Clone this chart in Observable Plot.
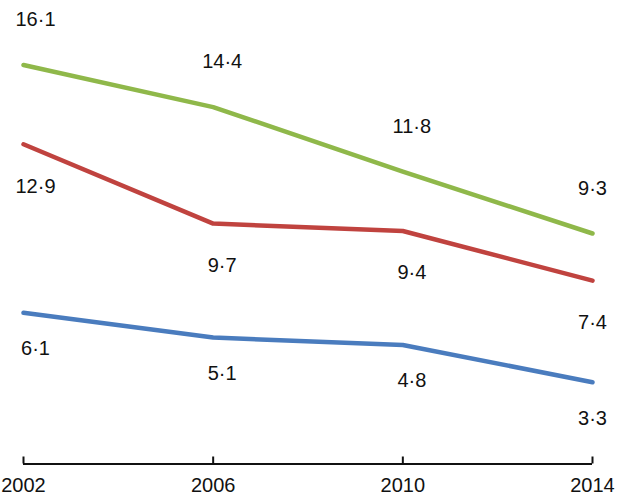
<!DOCTYPE html>
<html>
<head>
<meta charset="utf-8">
<script src="https://cdn.jsdelivr.net/npm/d3@7"></script>
<script src="https://cdn.jsdelivr.net/npm/@observablehq/plot@0.6"></script>
<style>
  html, body { margin: 0; padding: 0; background: #fff; }
  #chart svg { display: block; }
</style>
</head>
<body>
<div id="chart"></div>
<script>
const years = [2002, 2006, 2010, 2014];
const seriesNames = ["green", "red", "blue"];
const greenValues = [16.1, 14.4, 11.8, 9.3];
const redValues = [12.9, 9.7, 9.4, 7.4];
const blueValues = [6.1, 5.1, 4.8, 3.3];

const colors = {green: "#8fb84a", red: "#c0433f", blue: "#4a7cbe"};
const labelDy = {green: -45, red: 42, blue: 36};
const valuesBy = {green: greenValues, red: redValues, blue: blueValues};

const data = seriesNames.flatMap(s => years.map((yr, i) => ({series: s, year: yr, value: valuesBy[s][i]})));
const fmt = v => v.toFixed(1).replace(".", "\u00B7");
const font = "Liberation Sans, Arial, Helvetica, sans-serif";

const labelMarks = seriesNames.flatMap(s => [
  Plot.text(data.filter(d => d.series === s && d.year === 2002), {x: "year", y: "value", text: d => fmt(d.value), dy: labelDy[s], dx: 12, fontSize: 20, fill: "#111", lineAnchor: "middle"}),
  Plot.text(data.filter(d => d.series === s && (d.year === 2006 || d.year === 2010)), {x: "year", y: "value", text: d => fmt(d.value), dy: labelDy[s], dx: 9, fontSize: 20, fill: "#111", lineAnchor: "middle"}),
  Plot.text(data.filter(d => d.series === s && d.year === 2014), {x: "year", y: "value", text: d => fmt(d.value), dy: labelDy[s], dx: 0, fontSize: 20, fill: "#111", lineAnchor: "middle"})
]);

const chart = Plot.plot({
  width: 617,
  height: 497,
  marginLeft: 23,
  marginRight: 25,
  marginTop: 0,
  marginBottom: 33.5,
  style: {fontFamily: font, background: "#fff"},
  x: {domain: [2002, 2014], label: null},
  y: {domain: [0, 18.7], axis: null, label: null},
  marks: [
    Plot.ruleY([0], {stroke: "#111", strokeWidth: 2}),
    Plot.ruleX(years, {x: d => d, y1: 0, y2: 0, insetTop: -7, stroke: "#111", strokeWidth: 2}),
    Plot.axisX(years, {tickSize: 0, tickPadding: 14, fontSize: 20, tickFormat: d => String(d), fill: "#111", label: null}),
    Plot.line(data, {x: "year", y: "value", z: "series", stroke: d => colors[d.series], strokeWidth: 4.5, strokeLinecap: "round", strokeLinejoin: "round"}),
    ...labelMarks
  ]
});
document.getElementById("chart").appendChild(chart);
</script>
</body>
</html>
